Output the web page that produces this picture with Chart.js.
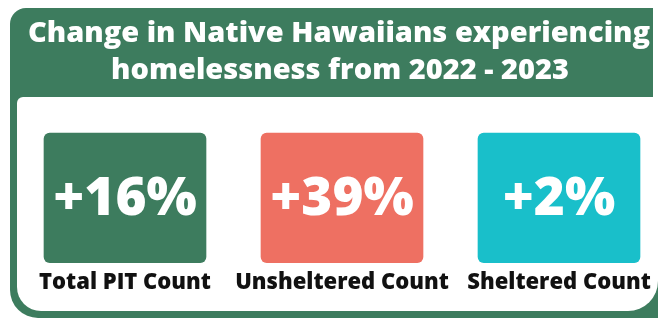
<!DOCTYPE html>
<html>
<head>
<meta charset="utf-8">
<script src="https://cdn.jsdelivr.net/npm/chart.js@4"></script>
<style>
  body { margin: 0; background: #fff; }
  canvas { display: block; }
</style>
</head>
<body>
<canvas id="grafica" width="658" height="320"></canvas>
<script>
//--------Datos
const categorias = ["Total PIT Count", "Unsheltered Count", "Sheltered Count"]
const cambios = [16, 39, 2] // % de cambio 2022 - 2023
const alturaTarjeta = [1, 1, 1] // las tarjetas miden todas lo mismo
const colores = ["#3d7c5e", "#ee7062", "#19bfca"]
const titulo = ["Change in Native Hawaiians experiencing", "homelessness from 2022 - 2023"]

const verde = "#3d7c5e"
const fuente = "'Open Sans', 'DejaVu Sans', sans-serif"

function rectRedondo(ctx, x, y, w, h, r) {
    ctx.beginPath()
    ctx.roundRect(x, y, w, h, r)
    ctx.fill()
}

//----Marco verde + tarjeta blanca + titulo
const pluginMarco = {
    id: "marco",
    beforeDraw(chart) {
        const ctx = chart.ctx
        ctx.save()
        ctx.fillStyle = "#fff"
        ctx.fillRect(0, 0, chart.width, chart.height)

        ctx.fillStyle = verde
        rectRedondo(ctx, 10, 8, 700, 310, [16, 0, 0, 28])

        ctx.fillStyle = "#fff"
        ctx.fillRect(653, 0, 20, 97)
        ctx.fillStyle = verde
        rectRedondo(ctx, 600, 8, 53, 89, [0, 6, 4, 0])

        ctx.fillStyle = "#fff"
        rectRedondo(ctx, 17, 97, 641, 214, [6, 0, 30, 24])

        //Titulo (a mano para que no lo comprima el padding)
        ctx.fillStyle = "#fff"
        ctx.font = "800 29px " + fuente
        ctx.textAlign = "center"
        ctx.textBaseline = "middle"
        ctx.fillText(titulo[0], 339, 34)
        ctx.fillText(titulo[1], 340, 71)
        ctx.restore()
    }
}

//----Porcentajes dentro de cada tarjeta
const pluginPorcentajes = {
    id: "porcentajes",
    afterDatasetsDraw(chart) {
        const ctx = chart.ctx
        const meta = chart.getDatasetMeta(0)
        ctx.save()
        ctx.fillStyle = "#fff"
        ctx.font = "800 53px " + fuente
        ctx.textAlign = "center"
        ctx.textBaseline = "middle"
        meta.data.forEach((barra, i) => {
            const centroY = (barra.y + barra.base) / 2
            ctx.fillText("+" + cambios[i] + "%", barra.x, centroY + 2)
        })
        ctx.restore()
    }
}

new Chart(document.getElementById("grafica"), {
    type: "bar",
    data: {
        labels: categorias,
        datasets: [{
            label: "Cambio",
            data: alturaTarjeta,
            backgroundColor: colores,
            borderRadius: 6,
            borderSkipped: false,
            barThickness: 162,
            clip: false
        }]
    },
    options: {
        responsive: false,
        devicePixelRatio: 1,
        animation: false,
        layout: {
            padding: { left: 125, right: 99, top: 133, bottom: 17 }
        },
        plugins: {
            legend: { display: false },
            tooltip: { enabled: false },
            title: { display: false }
        },
        scales: {
            x: {
                offset: false,
                grid: { display: false, drawTicks: false },
                border: { display: false },
                afterFit: (escala) => { //que las etiquetas no empujen el area del grafico
                    escala.paddingLeft = 0
                    escala.paddingRight = 0
                },
                ticks: {
                    autoSkip: false,
                    maxRotation: 0,
                    padding: 7,
                    color: "#111",
                    font: { family: fuente, size: 22, weight: "800" }
                }
            },
            y: {
                display: false,
                min: 0,
                max: 1
            }
        }
    },
    plugins: [pluginMarco, pluginPorcentajes]
})
</script>
</body>
</html>
